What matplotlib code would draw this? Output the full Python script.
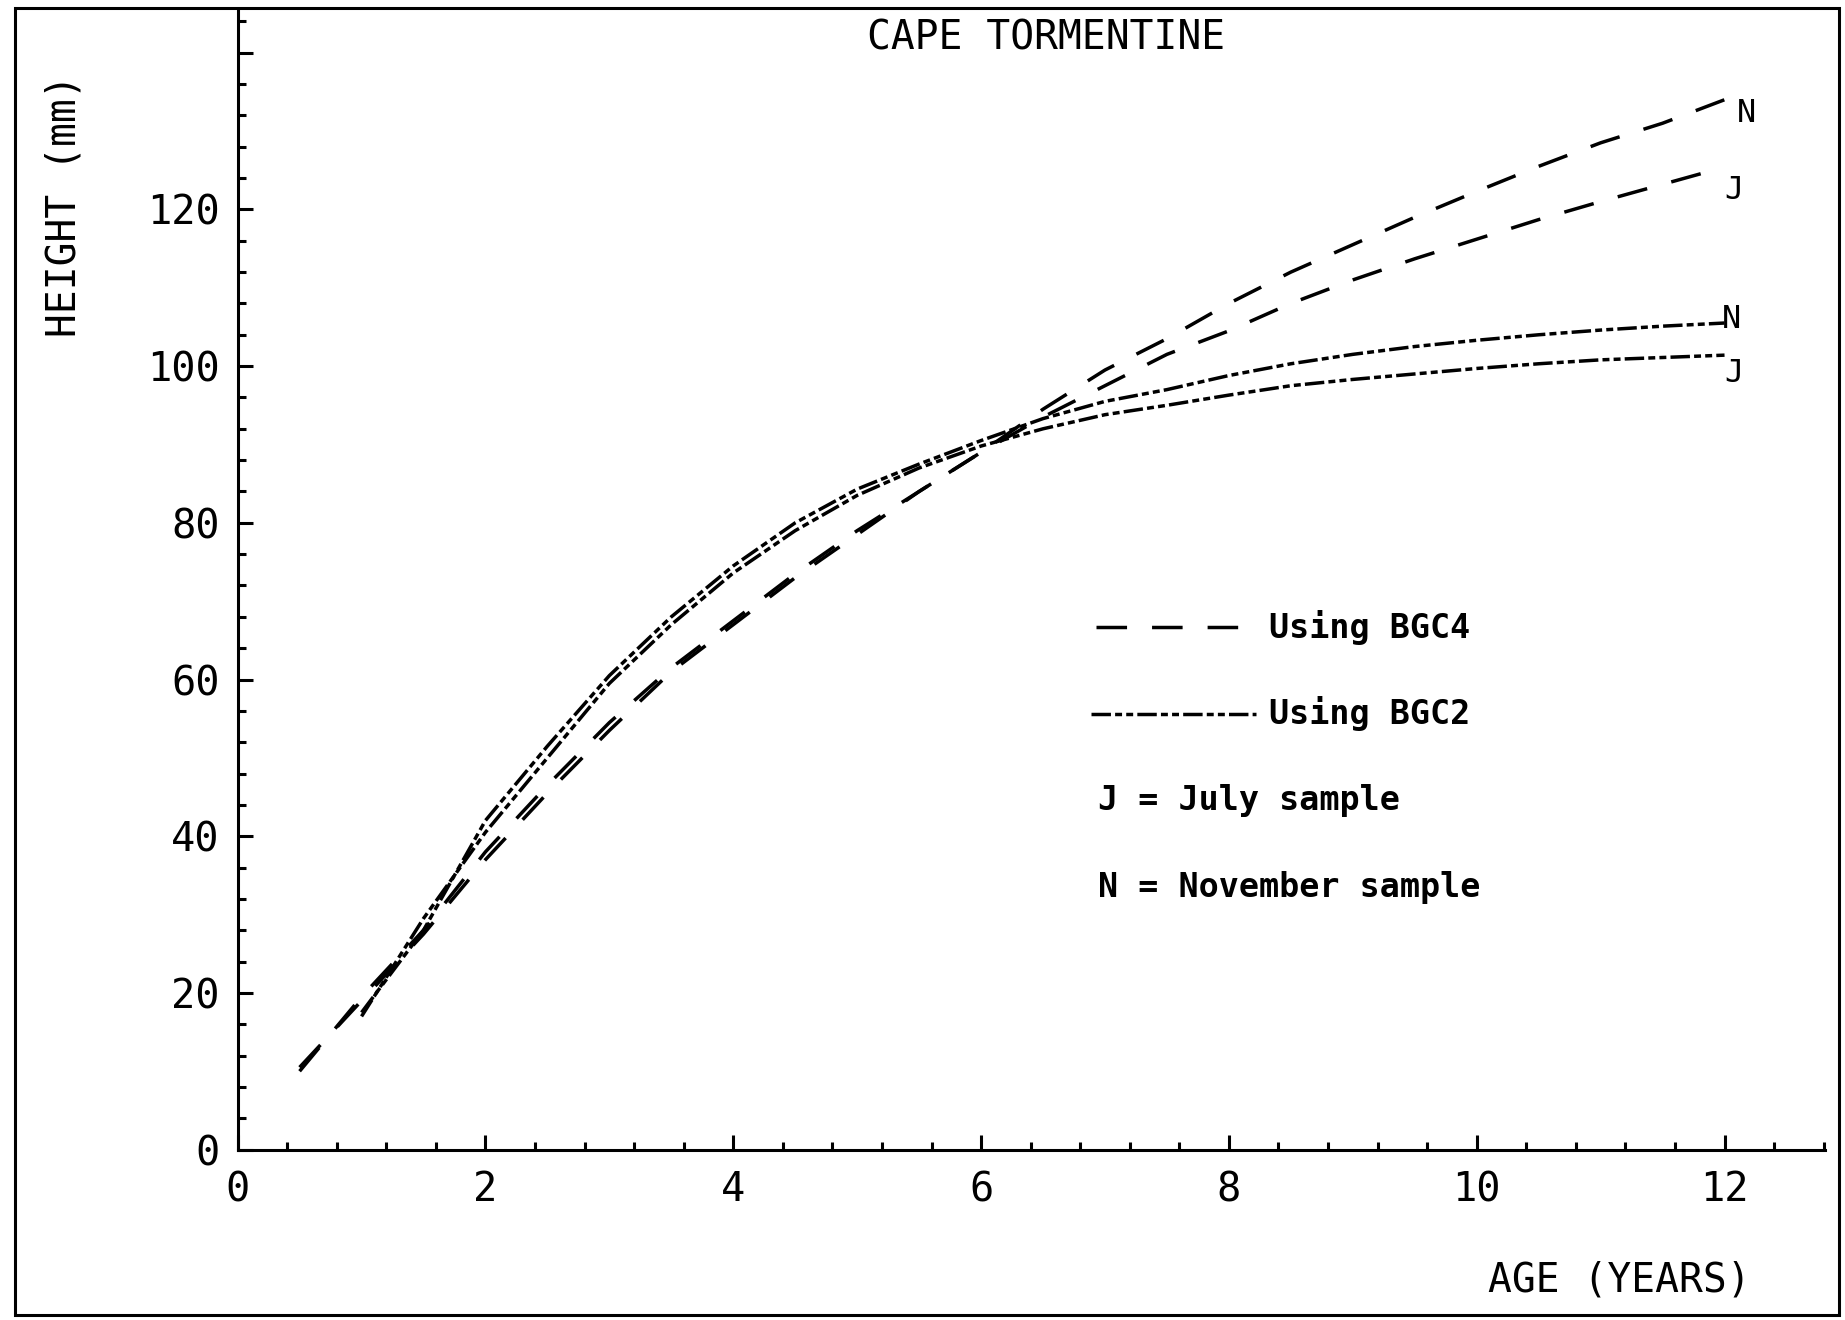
import matplotlib.pyplot as plt
from matplotlib.patches import Rectangle
from matplotlib.ticker import MultipleLocator, FuncFormatter

plt.rcParams['font.family'] = ['DejaVu Sans Mono']
plt.rcParams['lines.scale_dashes'] = False

# Age (years) and heights (mm)
age_bgc4 = [0.5, 1.0, 1.5, 2.0, 2.5, 3.0, 3.5, 4.0, 4.5, 5.0, 5.5, 6.0,
            6.5, 7.0, 7.5, 8.0, 8.5, 9.0, 9.5, 10.0, 10.5, 11.0, 11.5, 12.0]
bgc4_nov = [10, 19.5, 28, 38, 46.5, 54.5, 61.5, 67.5, 73.5, 79, 84, 89,
            94.5, 99.5, 103.5, 108, 112, 115.5, 119, 122.3, 125.5, 128.5, 131, 134]
bgc4_jul = [10.5, 19, 27.5, 37, 45.5, 53.5, 61, 67, 73, 78.5, 84, 89,
            93.5, 97.5, 101.5, 104.5, 108, 111, 113.7, 116.2, 118.7, 121, 123.2, 125.4]

age_bgc2 = [1.0, 1.5, 2.0, 2.5, 3.0, 3.5, 4.0, 4.5, 5.0, 5.5, 6.0,
            6.5, 7.0, 7.5, 8.0, 8.5, 9.0, 9.5, 10.0, 10.5, 11.0, 11.5, 12.0]
bgc2_nov = [17.5, 28, 42, 51.5, 60.5, 68, 74.5, 80, 84.3, 87.5, 90.5,
            93.3, 95.5, 97, 98.8, 100.3, 101.5, 102.5, 103.3, 104, 104.6, 105.1, 105.5]
bgc2_jul = [17, 29.5, 40.5, 50, 59.5, 67, 73.6, 79, 83.5, 87, 89.8,
            92, 93.8, 95, 96.3, 97.5, 98.3, 99, 99.7, 100.3, 100.8, 101.1, 101.4]

dash_long = (22, 18)
dash_mixed = (14, 3, 5, 3, 5, 3)

fig = plt.figure(figsize=(18.45, 13.2), dpi=100)
ax = fig.add_axes([0.1288, 0.1291, 0.8603, 0.8636])

ax.plot(age_bgc4, bgc4_nov, color='black', lw=2.5, dashes=dash_long)
ax.plot(age_bgc4, bgc4_jul, color='black', lw=2.5, dashes=dash_long)
ax.plot(age_bgc2, bgc2_nov, color='black', lw=2.5, dashes=dash_mixed)
ax.plot(age_bgc2, bgc2_jul, color='black', lw=2.5, dashes=dash_mixed)

# end labels
ax.text(12.1, 132.2, 'N', fontsize=23, va='center', ha='left')
ax.text(12.0, 122.4, 'J', fontsize=23, va='center', ha='left')
ax.text(11.98, 106.0, 'N', fontsize=23, va='center', ha='left')
ax.text(12.0, 99.0, 'J', fontsize=23, va='center', ha='left')

# legend
ax.plot([6.93, 8.07], [66.7, 66.7], color='black', lw=2.5, dashes=dash_long)
ax.plot([6.89, 8.22], [55.6, 55.6], color='black', lw=2.5, dashes=dash_mixed)
ax.text(8.32, 66.7, 'Using BGC4', fontsize=24, weight='bold', va='center')
ax.text(8.32, 55.6, 'Using BGC2', fontsize=24, weight='bold', va='center')
ax.text(6.94, 44.5, 'J = July sample', fontsize=24, weight='bold', va='center')
ax.text(6.94, 33.5, 'N = November sample', fontsize=24, weight='bold', va='center')

ax.set_xlim(0, 12.81)
ax.set_ylim(0, 145.5)
ax.spines['top'].set_visible(False)
ax.spines['right'].set_visible(False)
for s in ['left', 'bottom']:
    ax.spines[s].set_linewidth(2.2)

ax.xaxis.set_major_locator(MultipleLocator(2))
ax.xaxis.set_minor_locator(MultipleLocator(0.4))
ax.yaxis.set_major_locator(MultipleLocator(20))
ax.yaxis.set_minor_locator(MultipleLocator(4))
ax.yaxis.set_major_formatter(FuncFormatter(lambda v, p: '' if v > 125 else '%d' % v))
ax.tick_params(which='major', direction='in', length=11, width=2.2, labelsize=29)
ax.tick_params(which='minor', direction='in', length=5.5, width=2.2)
ax.tick_params(axis='x', which='major', pad=15)
ax.tick_params(axis='y', which='major', pad=13)

fig.text(0.567, 0.971, 'CAPE TORMENTINE', fontsize=28.5, ha='center', va='center')
fig.text(0.035, 0.844, 'HEIGHT (mm)', fontsize=28.5, rotation=90, ha='center', va='center')
fig.text(0.8775, 0.0303, 'AGE (YEARS)', fontsize=28.5, ha='center', va='center')

fig.patches.append(Rectangle((0.0081, 0.0038), 0.9886, 0.9901, transform=fig.transFigure,
                             fill=False, lw=2.2, ec='black'))

fig.savefig('out.png', dpi=100)
